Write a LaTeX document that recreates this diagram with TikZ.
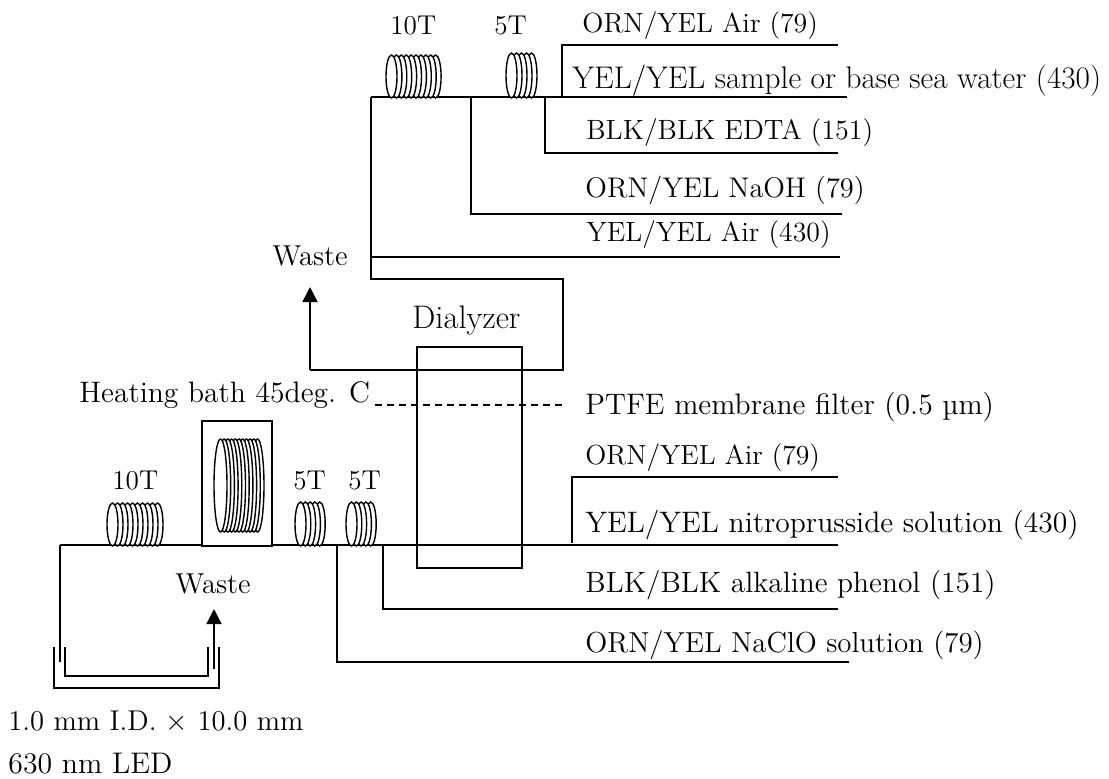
\documentclass[tikz,border=0pt]{standalone}
\usetikzlibrary{arrows.meta}

\newcommand{\coil}[6]{% x of first centre, top, bottom, half width, pitch, turns
  \pgfmathsetmacro{\coilmid}{(#2+#3)/2}
  \pgfmathsetmacro{\coilry}{(#3-#2)/2}
  \foreach \k in {#6,...,1} {
    \pgfmathsetmacro{\coilx}{#1+(\k-1)*#5}
    \draw[wire, fill=white] (\coilx,\coilmid) ellipse ({#4} and {\coilry});
  }
}

\begin{document}
\begin{tikzpicture}[
      x=0.5pt, y=-0.5pt,
      >={Triangle[length=7.5pt,width=7.5pt]},
      wire/.style={line width=0.7pt, draw=black},
      txt/.style={anchor=base west, inner sep=0pt, font=\fontsize{#1}{18}\selectfont},
      txt/.default=13.6
    ]
    \useasboundingbox (0,0) rectangle (1109,778);

    % Upper manifold
    \node[txt] (tenU) at (390,34) {10T};
    \node[txt] (fiveU) at (494,34) {5T};
    \coordinate (topL) at (371,97);
    \coordinate (topR) at (847,97);
    \draw[wire] (topL) -- (topR);
    \coil{391.5}{55}{98}{5.5}{4.9}{10}
    \coil{511.5}{53}{98}{5.5}{5}{5}

    \node[txt=13.85] (airU) at (582,32) {ORN/YEL Air (79)};
    \node[txt=15.65] (sampleU) at (572,88) {YEL/YEL sample or base sea water (430)};
    \node[txt=13.95] (edtaU) at (586,139) {BLK/BLK EDTA (151)};
    \node[txt=14.2] (naohU) at (585,197) {ORN/YEL NaOH (79)};
    \node[txt=13.9] (air2U) at (586,241) {YEL/YEL Air (430)};
    \node[txt=14.4] (wasteU) at (272,265) {Waste};
    \node[txt=16.3] (dialyzer) at (412,328) {Dialyzer};

    \coordinate (airJ) at (562,97);
    \coordinate (airE) at (838,45);
    \draw[wire] (airJ) |- (airE);
    \coordinate (edtaJ) at (545,97);
    \coordinate (edtaE) at (838,153);
    \draw[wire] (edtaJ) |- (edtaE);
    \coordinate (naohJ) at (471,97);
    \coordinate (naohE) at (842,214);
    \draw[wire] (naohJ) |- (naohE);
    \coordinate (air2E) at (840,257);
    \draw[wire] (topL) |- (air2E);
    \coordinate (backJ) at (371,279);
    \coordinate (backR) at (563,279);
    \coordinate (backB) at (563,370);
    \coordinate (wasteB) at (310,370);
    \coordinate (wasteT) at (310,287);
    \draw[wire] (topL) -- (backJ) -- (backR) -- (backB) -- (wasteB);
    \draw[wire, ->] (wasteB) -- (wasteT);

    % Dialyzer
    \node[draw, line width=0.7pt, minimum width=52.5pt, minimum height=110.5pt,
      inner sep=0pt] (dial) at (469.5,457.5) {};
    \coordinate (memL) at (375,405);
    \coordinate (memR) at (566,405);
    \draw[wire, dash pattern=on 3.5pt off 2.5pt] (memL) -- (memR);
    \node[txt=14.8] (heatLabel) at (79,402) {Heating bath 45deg. C};
    \node[txt=14.8] (ptfe) at (585,414) {PTFE membrane filter (0.5 µm)};

    % Lower manifold
    \node[txt] (tenL) at (112,489) {10T};
    \node[txt] (fiveA) at (293,489) {5T};
    \node[txt] (fiveB) at (348,489) {5T};
    \coordinate (lowL) at (60,545);
    \coordinate (lowR) at (838,545);
    \draw[wire] (lowL) -- (lowR);
    \node[draw, line width=0.7pt, fill=white, minimum width=35pt, minimum height=62.5pt,
      inner sep=0pt] (bath) at (237,483.5) {};
    \coil{112.5}{503}{546}{5.5}{5}{10}
    \coil{220.5}{439}{532}{6.5}{3.7}{11}
    \coil{300.5}{502}{546}{5.5}{4.8}{5}
    \coil{351.5}{502}{546}{5.5}{4.8}{5}

    \node[txt=13.8] (airL) at (585,464) {ORN/YEL Air (79)};
    \node[txt=14.8] (nitro) at (585,532) {YEL/YEL nitroprusside solution (430)};
    \node[txt=14.7] (phenol) at (585,592) {BLK/BLK alkaline phenol (151)};
    \node[txt=14.45] (naclo) at (585,652) {ORN/YEL NaClO solution (79)};
    \node[txt=14.4] (wasteL) at (175,593) {Waste};

    \coordinate (airLJ) at (572,543);
    \coordinate (airLE) at (838,477);
    \draw[wire] (airLJ) |- (airLE);
    \coordinate (phenolJ) at (383,545);
    \coordinate (phenolE) at (838,609);
    \draw[wire] (phenolJ) |- (phenolE);
    \coordinate (nacloJ) at (337,545);
    \coordinate (nacloE) at (849,662);
    \draw[wire] (nacloJ) |- (nacloE);

    % Flow cell
    \coordinate (inB) at (60,662);
    \draw[wire] (lowL) -- (inB);
    \coordinate (outB) at (214,669);
    \coordinate (outT) at (214,609);
    \draw[wire, ->] (outB) -- (outT);
    \coordinate (cellA) at (54,647);
    \coordinate (cellB) at (219,647);
    \coordinate (cellC) at (65,647);
    \coordinate (cellD) at (208,647);
    \draw[wire] (cellA) -- ++(0,41) -| (cellB);
    \draw[wire] (cellC) -- ++(0,29) -| (cellD);
    \node[txt=14.3] (cellSize) at (8,730) {1.0 mm I.D. $\times$ 10.0 mm};
    \node[txt=14.9] (led) at (8,773) {630 nm LED};
  \end{tikzpicture}
\end{document}
